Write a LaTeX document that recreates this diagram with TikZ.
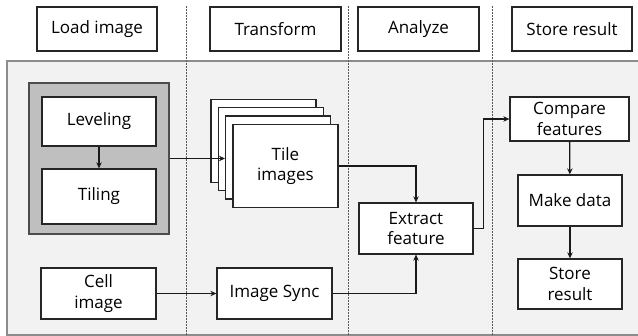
\documentclass[tikz,border=0pt]{standalone}
\usepackage{fontspec}
\setmainfont{Open Sans}
\usetikzlibrary{arrows.meta, calc}

\begin{document}
\begin{tikzpicture}[x=1pt,y=-1pt]


% GLOBAL SETTINGS
\tikzset{
  box/.style={draw=black!85, line width=1.3pt, fill=white, align=center,
    inner sep=0pt, font=\fontsize{17}{20.5}\selectfont},
  stagebox/.style={box, minimum height=44pt},
  groupbox/.style={draw=black!70, line width=1.8pt, fill=black!25, inner sep=0pt},
  lane/.style={draw=black!65, line width=0.7pt, dash pattern=on 1.6pt off 1.4pt},
  flow/.style={-{Stealth[length=6pt,width=5.5pt]}, line width=1.3pt, draw=black!90},
}
\newcommand{\tdx}{7.3}
\newcommand{\tdy}{8.3}
\useasboundingbox (0,0) rectangle (638,336);

% PANEL & LANES
\fill[black!5] (7,61) rectangle (645,335);
\draw[black!45, line width=1.6pt] (645,61) -- (7,61) -- (7,335) -- (645,335);
\foreach \x in {186,348,492} {
  \draw[lane] (\x,6) -- (\x,336);
}

% STAGES
\node[stagebox, minimum width=120pt] (hLoad) at (97,29) {Load image};
\node[stagebox, minimum width=131pt] (hTrans) at (275.5,29) {Transform};
\node[stagebox, minimum width=121pt] (hAna) at (418.5,29) {Analyze};
\node[stagebox, minimum width=120pt] (hStore) at (572,29) {Store result};

% LOAD
\node[groupbox, minimum width=140pt, minimum height=151pt] (grp) at (99,158.5) {};
\node[box, minimum width=114pt, minimum height=49pt] (lev) at (99,121.5) {Leveling};
\node[box, minimum width=114pt, minimum height=55pt] (til) at (99,196.5) {Tiling};
\node[box, minimum width=115pt, minimum height=51pt] (cell) at (98.5,293.5) {Cell\\image};

% TRANSFORM
\path (263.5,141) foreach \k in {1,...,3} {
  +({(\k-1)*\tdx},{(\k-1)*\tdy}) node[box, minimum width=105pt, minimum height=83pt] (T\k) {}
};
\node[box, minimum width=105pt, minimum height=83pt] (T4) at ($(T3)+(\tdx,\tdy)$) {Tile\\images};
\node[box, minimum width=115pt, minimum height=51pt] (sync) at (274.5,293.5) {Image Sync};

% ANALYZE
\node[box, minimum width=114pt, minimum height=51pt] (ext) at (416,228.5) {Extract\\feature};

% STORE
\node[box, minimum width=119pt, minimum height=44pt] (cmp) at (569.5,119) {Compare\\features};
\node[box, minimum width=104pt, minimum height=51pt] (make) at (570,200.5) {Make data};
\node[box, minimum width=104pt, minimum height=50pt] (store) at (570,284) {Store\\result};



% EDGES
\draw[flow] (lev) -- (til);
\draw[flow] (grp.east) -- (grp.east -| T3.west);
\draw[flow] (T4.east) -| (ext.north);
\draw[flow] (cell) -- (sync);
\draw[flow] (sync.east) -| (ext.south);
\draw[flow] (ext.east) -- ++(10,0) |- (cmp.west);
\draw[flow] (cmp) -- (make);
\draw[flow] (make) -- (store);

\end{tikzpicture}
\end{document}
